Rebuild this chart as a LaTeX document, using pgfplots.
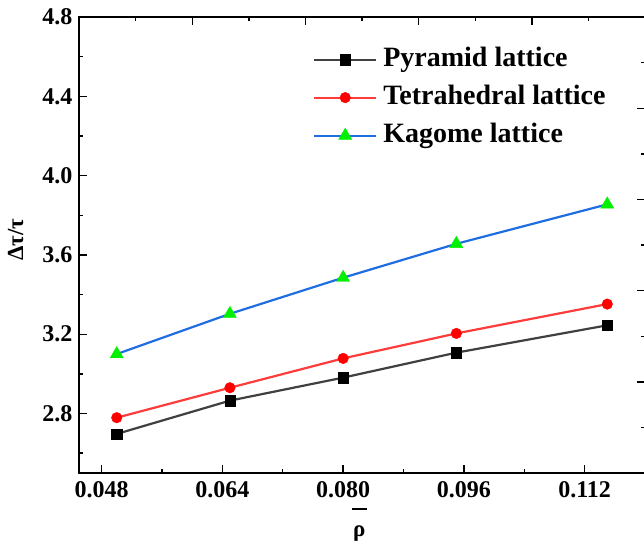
\documentclass[border=0pt]{standalone}
\usepackage{fontspec}
\setmainfont{Liberation Serif}
\usepackage{pgfplots}
\pgfplotsset{compat=1.18}

\definecolor{pyrline}{RGB}{64,64,64}
\definecolor{tetline}{RGB}{255,60,60}
\definecolor{kagline}{RGB}{30,110,225}
\definecolor{kagmark}{RGB}{0,240,0}

\begin{document}
\begin{tikzpicture}
\useasboundingbox (-79pt,-70pt) rectangle (565pt,473pt);
% second frame: independent ticks on top and right
\begin{axis}[width=566pt, height=456pt, scale only axis, at={(0,0)}, anchor=south west,
  xmin=0, xmax=5, ymin=0, ymax=5, xtick={0,1,2,3,4,5}, ytick={0,1,2,3,4,5},
  minor xtick={0.5,1.5,2.5,3.5,4.5}, minor ytick={0.5,1.5,2.5,3.5,4.5},
  axis x line*=top, axis y line*=right, x axis line style={-}, y axis line style={-},
  xticklabels={}, yticklabels={}, tick align=inside,
  major tick length=8pt, minor tick length=4.5pt,
  every tick/.style={black, line width=1.4pt}, axis line style={line width=1.8pt}]
\end{axis}
\begin{axis}[width=566pt, height=456pt, scale only axis, at={(0,0)}, anchor=south west,
  xmin=0.045, xmax=0.12, ymin=2.5, ymax=4.8,
  xtick={0.048,0.064,0.080,0.096,0.112}, xticklabels={0.048,0.064,0.080,0.096,0.112},
  minor xtick={0.056,0.072,0.088,0.104,0.12},
  ytick={2.8,3.2,3.6,4.0,4.4,4.8}, yticklabels={2.8,3.2,3.6,4.0,4.4,4.8},
  minor ytick={2.6,3.0,3.4,3.8,4.2,4.6},
  xtick pos=left, ytick pos=left, tick align=inside,
  major tick length=8pt, minor tick length=4.5pt,
  every tick/.style={black, line width=1.4pt}, axis line style={line width=1.8pt},
  tick label style={font=\fontsize{24}{26}\selectfont\bfseries},
  xticklabel style={yshift=-5pt}, yticklabel style={xshift=-3pt},
  xlabel={\fontsize{23}{26}\selectfont\bfseries\begin{tabular}{@{}c@{}}\rule{15pt}{1.6pt}\\[1pt]ρ\end{tabular}},
  xlabel style={at={(axis description cs:0.495,-0.099)}, anchor=center},
  ylabel={\fontsize{23}{25}\selectfont\bfseries Δτ/τ},
  ylabel style={at={(axis description cs:-0.112,0.511)}, anchor=center},
  legend cell align=left,
  legend style={draw=none, fill=none, at={(axis description cs:0.408,0.953)}, anchor=north west,
    font=\fontsize{28}{30}\selectfont\bfseries,
    nodes={inner xsep=6pt, inner ysep=6.5pt, text height=19pt, text depth=6pt}},
  legend image code/.code={\draw[mark repeat=2, mark phase=2, #1] plot coordinates {(0pt,0pt) (31pt,0pt) (62pt,0pt)};}
]
\addplot[color=pyrline, line width=2.2pt, mark=square*, mark size=5.2pt,
  mark options={fill=black, draw=black, line width=0.4pt}]
  coordinates {(0.050,2.697) (0.065,2.865) (0.080,2.981) (0.095,3.107) (0.115,3.245)};
\addlegendentry{Pyramid lattice}
\addplot[color=tetline, line width=2.2pt, mark=*, mark size=5.3pt,
  mark options={fill=red, draw=red, line width=0.4pt}]
  coordinates {(0.050,2.779) (0.065,2.930) (0.080,3.078) (0.095,3.204) (0.115,3.352)};
\addlegendentry{Tetrahedral lattice}
\addplot[color=kagline, line width=2.2pt, mark=triangle*, mark size=7.5pt,
  mark options={fill=kagmark, draw=kagmark, line width=0.4pt}]
  coordinates {(0.050,3.100) (0.065,3.303) (0.080,3.485) (0.095,3.656) (0.115,3.855)};
\addlegendentry{Kagome lattice}
\end{axis}
\end{tikzpicture}
\end{document}
